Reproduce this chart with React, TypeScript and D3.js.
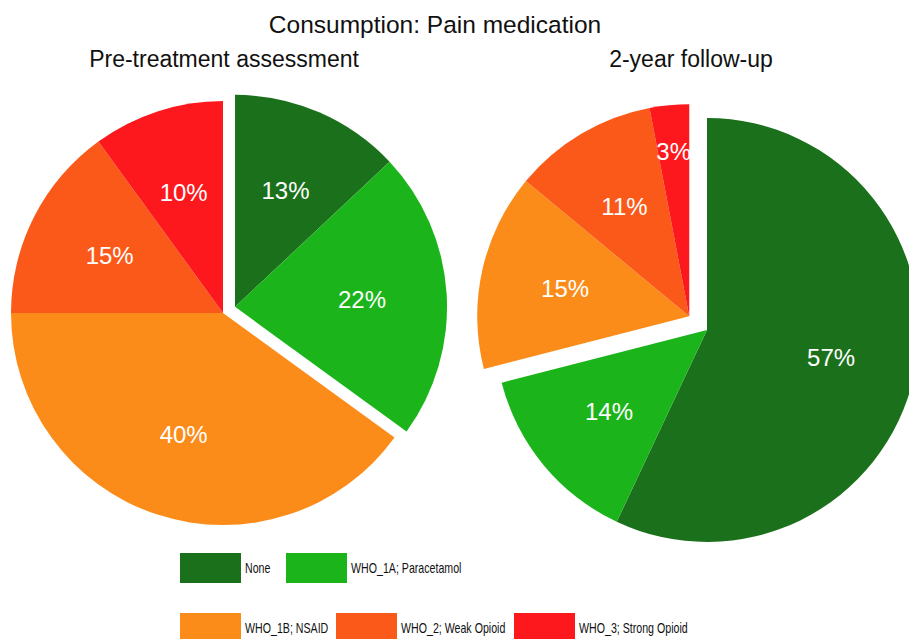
import React, { useEffect, useRef } from 'react';
import * as d3 from 'd3';

// categories and colours
const categories = ['None', 'WHO_1A; Paracetamol', 'WHO_1B; NSAID', 'WHO_2; Weak Opioid', 'WHO_3; Strong Opioid'];
const colors = ['#1b711b', '#1bb41b', '#fb8c1a', '#fb5919', '#fd181d'];

// percentages per period
const preValues = [13, 22, 40, 15, 10];
const postValues = [57, 14, 15, 11, 3];

// which slices are pulled out
const preExploded = [true, true, false, false, false];
const postExploded = [false, false, true, true, true];

const title = 'Consumption: Pain medication';
const preTitle = 'Pre-treatment assessment';
const postTitle = '2-year follow-up';

const W = 909;
const H = 639;
const R = 212;
const FONT = '"Liberation Sans", Arial, sans-serif';

// legend layout (rows of items, x of each box)
const legendRows = [
  { y: 553, items: [{ i: 0, x: 180 }, { i: 1, x: 286 }] },
  { y: 613, items: [{ i: 2, x: 180 }, { i: 3, x: 336 }, { i: 4, x: 514 }] },
];

function drawPie(g, values, exploded, cx, cy, pull) {
  const pie = d3.pie<number>().sort(null).value(d => d)(values);
  const arc = d3.arc<any>().innerRadius(0).outerRadius(R);

  // bisector of the exploded group
  const ex = pie.filter((_, i) => exploded[i]);
  const a0 = d3.min(ex, d => d.startAngle);
  const a1 = d3.max(ex, d => d.endAngle);
  const mid = (a0 + a1) / 2;
  const dx = Math.sin(mid) * pull;
  const dy = -Math.cos(mid) * pull;

  const root = g.append('g').attr('transform', `translate(${cx},${cy})`);

  const slices = root.selectAll('g.slice')
    .data(pie)
    .enter()
    .append('g')
    .attr('class', 'slice')
    .attr('transform', (d, i) => exploded[i] ? `translate(${dx},${dy})` : null);

  slices.append('path')
    .attr('d', arc)
    .attr('fill', (d, i) => colors[i]);

  slices.append('text')
    .attr('text-anchor', 'middle')
    .attr('dy', '0.36em')
    .attr('fill', '#ffffff')
    .attr('font-family', FONT)
    .attr('font-size', 24)
    .text(d => `${d.value}%`)
    .each(function (d) {
      const t = d3.select(this);
      const w = (this as SVGTextElement).getComputedTextLength();
      const span = d.endAngle - d.startAngle;
      // push labels of thin slices outward, but keep them inside the pie
      const r = Math.min(Math.max(R * 0.6, w / span), R * 0.78);
      const m = (d.startAngle + d.endAngle) / 2;
      t.attr('x', Math.sin(m) * r).attr('y', -Math.cos(m) * r);
    });
}

export default function App() {
  const ref = useRef<SVGSVGElement>(null);

  useEffect(() => {
    const svg = d3.select(ref.current);
    svg.selectAll('*').remove();

    svg.append('rect').attr('width', W).attr('height', H).attr('fill', '#ffffff');

    svg.append('text')
      .attr('x', 435).attr('y', 33)
      .attr('text-anchor', 'middle')
      .attr('font-family', FONT).attr('font-size', 24.5)
      .attr('fill', '#111')
      .text(title);

    svg.append('text')
      .attr('x', 224).attr('y', 67)
      .attr('text-anchor', 'middle')
      .attr('font-family', FONT).attr('font-size', 23)
      .attr('fill', '#111')
      .text(preTitle);

    svg.append('text')
      .attr('x', 691).attr('y', 67)
      .attr('text-anchor', 'middle')
      .attr('font-family', FONT).attr('font-size', 23)
      .attr('fill', '#111')
      .text(postTitle);

    drawPie(svg, preValues, preExploded, 223, 313, 13.5);
    drawPie(svg, postValues, postExploded, 707, 330, 22.5);

    // legend (narrow text: Liberation Sans squeezed horizontally)
    const lg = svg.append('g');
    legendRows.forEach(row => {
      row.items.forEach(({ i, x }) => {
        lg.append('rect')
          .attr('x', x).attr('y', row.y)
          .attr('width', 61).attr('height', 30)
          .attr('fill', colors[i]);
        lg.append('text')
          .attr('transform', `translate(${x + 65},${row.y + 20}) scale(0.76,1)`)
          .attr('font-family', FONT).attr('font-size', 14)
          .attr('fill', '#111')
          .text(categories[i]);
      });
    });
  }, []);

  return (
    <svg
      ref={ref}
      width={W}
      height={H}
      style={{ position: 'absolute', left: 0, top: 0, display: 'block' }}
    />
  );
}
